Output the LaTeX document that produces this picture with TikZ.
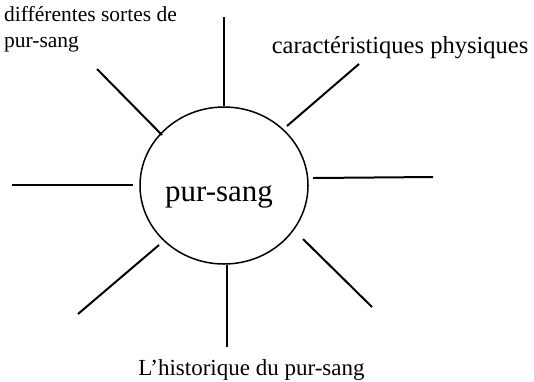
\documentclass[tikz,border=0pt]{standalone}
\usepackage{fontspec}
\setmainfont{Liberation Serif}
\usetikzlibrary{shapes.geometric}
\tikzset{
  hub/.style = {ellipse, draw, line width=1.5pt, inner sep=0pt, minimum width=168pt, minimum height=157pt},
  spoke/.style = {line width=2pt},
  thinspoke/.style = {line width=1.5pt},
  topic/.style = {inner sep=0pt, font=\fontsize{23.5}{26}\selectfont},
}
\begin{document}
\begin{tikzpicture}[x=1pt, y=-1pt]
\useasboundingbox (0,0) rectangle (534,381);

% centre
\node[hub] (hub) at (224,185.5) {};
\node[topic, font=\fontsize{31}{36}\selectfont, anchor=base] (hublabel) at (219,201) {pur-sang};

% spoke ends
\coordinate (top-out) at (224,17);
\coordinate (bot-in) at (227,265);
\coordinate (bot-out) at (227,347);
\coordinate (left-out) at (12,185);
\coordinate (left-in) at (133,185);
\coordinate (right-in) at (313,178);
\coordinate (right-out) at (433,177);
\coordinate (ul-out) at (97,69);
\coordinate (ul-in) at (162,135);
\coordinate (ur-out) at (359,64);
\coordinate (ur-in) at (287,126);
\coordinate (ll-in) at (159,245);
\coordinate (ll-out) at (78,314);
\coordinate (lr-in) at (303,239);
\coordinate (lr-out) at (372,307);

\draw[thinspoke] (hub.north) -- (top-out);
\draw[thinspoke] (bot-in) -- (bot-out);
\draw[spoke] (left-in) -- (left-out);
\draw[spoke] (right-in) -- (right-out);
\draw[spoke] (ul-in) -- (ul-out);
\draw[spoke] (ur-in) -- (ur-out);
\draw[spoke] (ll-in) -- (ll-out);
\draw[spoke] (lr-in) -- (lr-out);

% labels
\node[topic, font=\fontsize{21.5}{26}\selectfont, anchor=base west, align=left] (sortes) at (4,47) {différentes sortes de\\pur-sang};
\node[topic, font=\fontsize{24.5}{26}\selectfont, anchor=base] (physique) at (400,53) {caractéristiques physiques};
\node[topic, font=\fontsize{23}{26}\selectfont, anchor=base] (histoire) at (251.5,375) {L’historique du pur-sang};
\end{tikzpicture}
\end{document}
